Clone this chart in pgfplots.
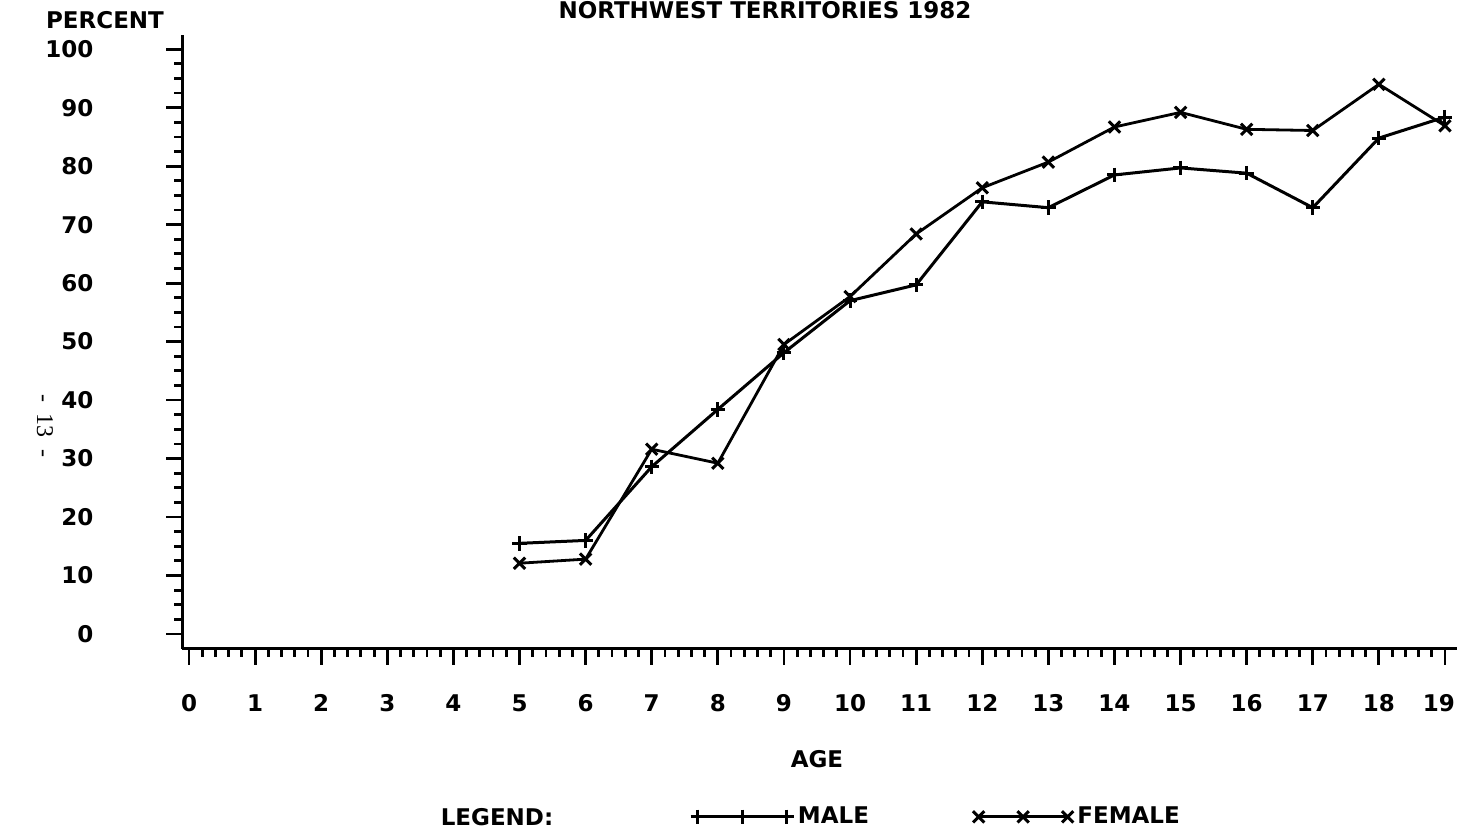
\documentclass[border=0pt]{standalone}
\usepackage{fontspec}
\setmainfont{DejaVu Sans}
\newfontfamily\serifpg{Liberation Serif}
\usepackage{pgfplots}
\pgfplotsset{compat=1.18}
\pgfplotstableread{
age pct
5 15.5
6 16.0
7 28.6
8 38.4
9 48.1
10 57.0
11 59.7
12 73.9
13 72.9
14 78.5
15 79.7
16 78.8
17 72.9
18 84.8
19 88.4
}\male
\pgfplotstableread{
age pct
5 12.1
6 12.8
7 31.6
8 29.2
9 49.5
10 57.7
11 68.4
12 76.3
13 80.7
14 86.7
15 89.2
16 86.3
17 86.1
18 94.0
19 86.9
}\female
\newcommand{\pf}{\fontsize{11.5}{13}\selectfont\bfseries}
\begin{document}
\begin{tikzpicture}
\useasboundingbox (0,0) rectangle (728.5pt,415pt);
\begin{axis}[
  at={(91.2pt,90.7pt)}, anchor=south west,
  scale only axis, width=637.9pt, height=307pt,
  xmin=-0.1, xmax=19.2, ymin=-2.5, ymax=102.5,
  axis x line=bottom, axis y line=left,
  axis line style={-, line width=1.5pt},
  xtick={0,...,19}, ytick={0,10,...,100},
  xticklabels={0,1,2,3,4,5,6,7,8,9,10,11,12,13,14,15,16,17,18,{\kern-6pt 19}},
  minor x tick num=4, minor y tick num=3,
  tick align=outside, major tick length=8pt, minor tick length=4pt,
  tick style={line width=1.4pt, black},
  /pgf/number format/assume math mode=true,
  ticklabel style={font=\pf},
  yticklabel style={anchor=east, xshift=-33pt},
  xticklabel style={anchor=center, text height=8.4pt, text depth=0pt, yshift=-19pt},
  clip=false,
  legend columns=2,
  legend style={at={(0.398,-0.274)}, anchor=west, draw=none, fill=none,
    font=\pf, inner sep=0pt,
    /tikz/every even column/.append style={column sep=50pt}},
  legend image code/.code={\draw[mark repeat=1,mark phase=1,#1] plot coordinates {(0pt,0pt) (22.25pt,0pt) (44.5pt,0pt)};},
]
\addplot[black, line width=1.5pt, mark=+, mark size=3.6pt, mark options={line width=1.5pt}] table[x=age,y=pct]{\male};
\addlegendentry{MALE}
\addplot[black, line width=1.4pt, mark=x, mark size=4pt, mark options={line width=1.5pt}] table[x=age,y=pct]{\female};
\addlegendentry{FEMALE}
\end{axis}
\node[font=\pf] at (52.5pt,405pt) {PERCENT};
\node[font=\pf] at (408.5pt,35.5pt) {AGE};
\node[font=\pf] at (248.5pt,6.5pt) {LEGEND:};
\node[font=\pf, anchor=base] at (382.5pt,405.5pt) {NORTHWEST TERRITORIES 1982};
\node[font=\serifpg\fontsize{12}{14}\selectfont, rotate=-90] at (22.5pt,202pt) {-\ \ 13\ \ -};
\end{tikzpicture}
\end{document}
